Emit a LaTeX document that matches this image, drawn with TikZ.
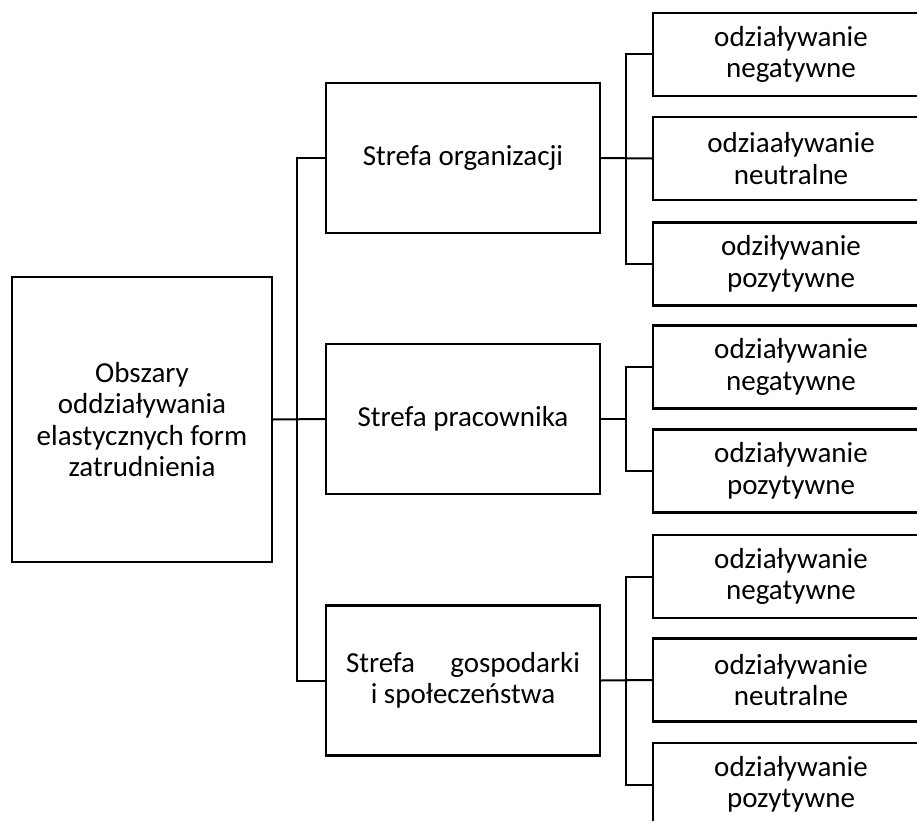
\documentclass[tikz,border=0pt]{standalone}
\usepackage{fontspec}
\setmainfont{Carlito}
\usetikzlibrary{positioning}
\begin{document}
\begin{tikzpicture}[x=1bp,y=-1bp,
  box/.style={draw=black, line width=2.4bp, inner sep=0pt, align=center,
    font=\fontsize{29bp}{31.5bp}\selectfont},
  rootbox/.style={box, minimum width=260bp, minimum height=285bp},
  zonebox/.style={box, minimum width=274bp, minimum height=150bp},
  leafbox/.style={box, minimum width=276bp, minimum height=83bp},
  link/.style={draw=black, line width=2bp}]
  % canvas
  \useasboundingbox (0,0) rectangle (917,821);
  \fill[white] (0,0) rectangle (917,821);
  \clip (0,0) rectangle (917,821);

  % root
  \node[rootbox] (root) at (142,419.5) {Obszary\\oddziaływania\\elastycznych form\\zatrudnienia};

  % zones
  \node[zonebox] (org) at (463,158)   {Strefa organizacji};
  \node[zonebox] (pra) at (463,419)   {Strefa pracownika};
  \node[zonebox] (gos) at (463,680.5) {\makebox[234bp][s]{Strefa\hfill gospodarki}\\i społeczeństwa};

  % leaves of the organisation zone
  \node[leafbox] (o1) at (791,54.5)  {odziaływanie\\negatywne};
  \node[leafbox] (o2) at (791,158.5) {odziaaływanie\\neutralne};
  \node[leafbox] (o3) at (791,264)   {odziływanie\\pozytywne};

  % leaves of the employee zone
  \node[leafbox] (p1) at (791,367) {odziaływanie\\negatywne};
  \node[leafbox] (p2) at (791,471) {odziaływanie\\pozytywne};

  % leaves of the economy and society zone
  \node[leafbox] (g1) at (791,576.5) {odziaływanie\\negatywne};
  \node[leafbox] (g2) at (791,680)   {odziaływanie\\neutralne};
  \node[leafbox] (g3) at (791,784.5) {odziaływanie\\pozytywne};

  % junction points on the branch lines
  \coordinate (jp) at (627,419);

  % trunk: root to the three zones
  \draw[link] (org.west) -- ++(-28,0) |- (gos.west);
  \draw[link] (root.east) -- (pra.west);

  % organisation branch
  \draw[link] (o1.west) -- ++(-26,0) |- (o3.west);
  \draw[link] (org.east) -- (o2.west);

  % employee branch
  \draw[link] (p1.west) -- ++(-26,0) |- (p2.west);
  \draw[link] (pra.east) -- (jp);

  % economy and society branch
  \draw[link] (g1.west) -- ++(-26,0) |- (g3.west);
  \draw[link] (gos.east) -- (g2.west);
\end{tikzpicture}
\end{document}
